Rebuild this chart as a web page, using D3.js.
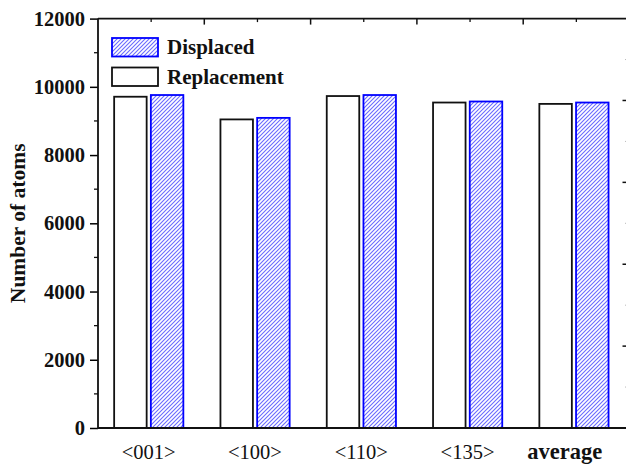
<html lang="en">
  <head>
    <meta charset="UTF-8">
    <title>Displaced vs Replacement atoms</title>
    <script src="https://d3js.org/d3.v7.min.js"></script>
    <style>
body, html {
  margin: 0;
  padding: 0;
  background: white;
  overflow: hidden;
}
svg {
  display: block;
  font-family: "Liberation Serif", "Times New Roman", serif;
}
    </style>
  </head>
  <body>
    <svg width="626" height="465"></svg>
    <script>
      const categories = ["<001>", "<100>", "<110>", "<135>", "average"];
      const replacement = [9710, 9045, 9730, 9540, 9500];
      const displaced = [9760, 9090, 9760, 9570, 9540];
      const yTicks = [0, 2000, 4000, 6000, 8000, 10000, 12000];
      const seriesNames = ["Displaced", "Replacement"];

      const svg = d3.select("svg");
      const plotL = 98, plotR = 629.5, plotT = 18.6, plotB = 428;

      // hatch for the displaced bars
      const defs = svg.append("defs");
      const pat = defs.append("pattern")
        .attr("id", "hatch")
        .attr("patternUnits", "userSpaceOnUse")
        .attr("width", 4)
        .attr("height", 4);
      pat.append("rect").attr("width", 4).attr("height", 4).attr("fill", "white");
      pat.append("path")
        .attr("d", "M-1,1 L1,-1 M0,4 L4,0 M3,5 L5,3")
        .attr("stroke", "#6a6aff")
        .attr("stroke-width", 1.1);

      const x = d3.scaleLinear().domain([0.5, categories.length + 0.5]).range([plotL, plotR]);
      const y = d3.scaleLinear().domain([0, 12000]).range([plotB, plotT]);
      const yRight = d3.scaleLinear().domain([0, 5]).range([plotB, plotT]);

      const barW = 32.5;
      const data = categories.map((c, i) => ({ cat: c, pos: i + 1, rep: replacement[i], dis: displaced[i] }));

      // bars
      svg.selectAll("rect.rep")
        .data(data)
        .join("rect")
        .attr("class", "rep")
        .attr("x", d => x(d.pos) - 37)
        .attr("y", d => y(d.rep))
        .attr("width", barW)
        .attr("height", d => y(0) - y(d.rep))
        .attr("fill", "white")
        .attr("stroke", "#111")
        .attr("stroke-width", 1.8);

      svg.selectAll("rect.dis")
        .data(data)
        .join("rect")
        .attr("class", "dis")
        .attr("x", d => x(d.pos) - 0.3)
        .attr("y", d => y(d.dis))
        .attr("width", barW)
        .attr("height", d => y(0) - y(d.dis))
        .attr("fill", "url(#hatch)")
        .attr("stroke", "#0000ff")
        .attr("stroke-width", 1.8);

      // left axis
      const yAxis = svg.append("g")
        .attr("transform", `translate(${plotL},0)`)
        .call(d3.axisLeft(y).tickValues(yTicks).tickSize(8).tickPadding(5).tickFormat(d3.format("d")));
      yAxis.selectAll("text")
        .attr("font-size", 20.5)
        .attr("font-weight", "bold")
        .attr("font-family", "Liberation Serif, serif")
        .attr("fill", "#111");
      yAxis.selectAll("line").attr("stroke-width", 1.5);
      yAxis.select(".domain").remove();
      yAxis.selectAll("line.minor")
        .data(d3.range(1000, 12000, 2000))
        .join("line")
        .attr("class", "minor")
        .attr("x1", -4).attr("x2", 0)
        .attr("y1", d => y(d)).attr("y2", d => y(d))
        .attr("stroke", "#111").attr("stroke-width", 1.3);

      // top axis: long ticks between groups, short at centres
      const topG = svg.append("g");
      topG.selectAll("line.maj")
        .data(d3.range(1.5, categories.length, 1))
        .join("line")
        .attr("class", "maj")
        .attr("x1", d => x(d)).attr("x2", d => x(d))
        .attr("y1", plotT).attr("y2", plotT + 6)
        .attr("stroke", "#111").attr("stroke-width", 1.5);
      topG.selectAll("line.min")
        .data(data)
        .join("line")
        .attr("class", "min")
        .attr("x1", d => x(d.pos)).attr("x2", d => x(d.pos))
        .attr("y1", plotT).attr("y2", plotT + 3.5)
        .attr("stroke", "#111").attr("stroke-width", 1.3);

      // right axis (mostly outside the picture)
      const rightG = svg.append("g");
      rightG.selectAll("line.maj")
        .data(d3.range(1, 5))
        .join("line")
        .attr("class", "maj")
        .attr("x1", plotR - 7).attr("x2", plotR)
        .attr("y1", d => yRight(d)).attr("y2", d => yRight(d))
        .attr("stroke", "#111").attr("stroke-width", 1.5);
      rightG.selectAll("line.min")
        .data(d3.range(0.5, 5, 1))
        .join("line")
        .attr("class", "min")
        .attr("x1", plotR - 4.5).attr("x2", plotR)
        .attr("y1", d => yRight(d)).attr("y2", d => yRight(d))
        .attr("stroke", "#bbb").attr("stroke-width", 1);

      // frame
      svg.append("path")
        .attr("d", `M${plotL},${plotT} V${plotB} H${plotR + 2} M${plotL},${plotT} H${plotR + 2}`)
        .attr("fill", "none")
        .attr("stroke", "#111")
        .attr("stroke-width", 1.8);

      // category labels
      svg.selectAll("text.cat")
        .data(data)
        .join("text")
        .attr("class", "cat")
        .attr("x", d => x(d.pos) - 2.5 - (d.cat === "average" ? 9 : 0))
        .attr("y", 459)
        .attr("text-anchor", "middle")
        .attr("font-size", d => d.cat === "average" ? 22.5 : 20.5)
        .attr("font-weight", d => d.cat === "average" ? "bold" : "normal")
        .attr("fill", "#111")
        .text(d => d.cat);

      // y title
      svg.append("text")
        .attr("transform", `translate(25,${(plotT + plotB) / 2}) rotate(-90)`)
        .attr("text-anchor", "middle")
        .attr("font-size", 21.5)
        .attr("font-weight", "bold")
        .attr("fill", "#111")
        .text("Number of atoms");

      // legend
      const legend = svg.append("g");
      const swatchY = [38, 67.5];
      legend.selectAll("rect")
        .data(seriesNames)
        .join("rect")
        .attr("x", 112)
        .attr("y", (d, i) => swatchY[i])
        .attr("width", 46)
        .attr("height", 18.5)
        .attr("fill", (d, i) => i === 0 ? "url(#hatch)" : "white")
        .attr("stroke", (d, i) => i === 0 ? "#0000ff" : "#111")
        .attr("stroke-width", 1.8);
      legend.selectAll("text")
        .data(seriesNames)
        .join("text")
        .attr("x", 167)
        .attr("y", (d, i) => swatchY[i] + 16.3)
        .attr("font-size", 21)
        .attr("font-weight", "bold")
        .attr("fill", "#111")
        .text(d => d);
    </script>
  </body>
</html>
